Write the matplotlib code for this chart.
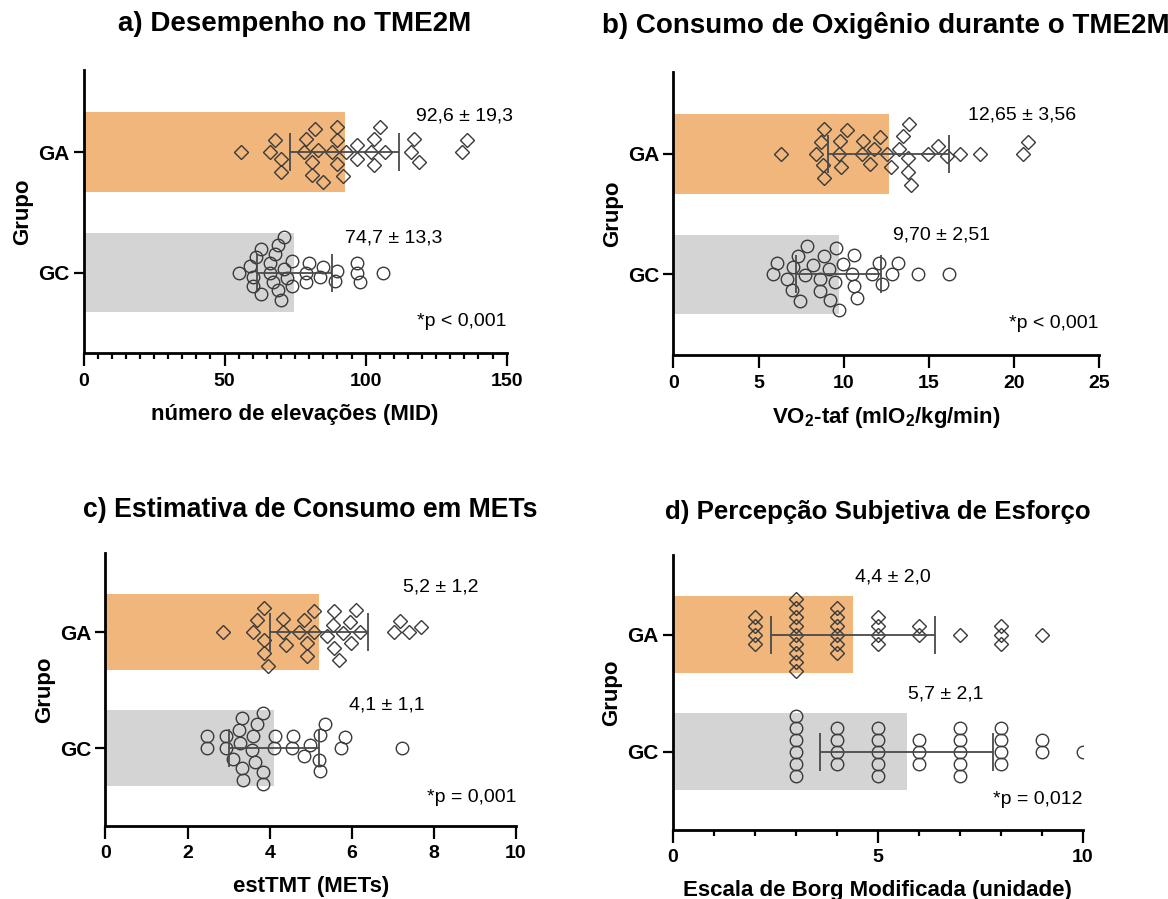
import numpy as np
import matplotlib.pyplot as plt
from matplotlib.ticker import MultipleLocator

plt.rcParams['font.family'] = ['Liberation Sans', 'DejaVu Sans']
plt.rcParams['mathtext.fontset'] = 'custom'
plt.rcParams['mathtext.rm'] = 'Liberation Sans'
plt.rcParams['mathtext.bf'] = 'Liberation Sans:bold'

group_labels = ['GC', 'GA']

# a) desempenho no TME2M (numero de elevacoes)
tme_ga = [56, 66, 68, 70, 70, 78, 79, 81, 81, 82, 83, 85, 88, 90, 90,
          90, 92, 93, 97, 97, 102, 103, 103, 105, 107, 116, 117, 119, 134, 136]
tme_gc = [55, 59, 60, 60, 61, 63, 63, 66, 66, 67, 68, 69, 69, 70, 71,
          71, 72, 74, 74, 79, 79, 80, 84, 85, 89, 90, 97, 97, 98, 106]
tme_mean = [74.7, 92.6]   # GC, GA
tme_sd = [13.3, 19.3]
tme_text = ['74,7 ± 13,3', '92,6 ± 19,3']

# b) VO2-taf
vo2_ga = [6.32, 8.35, 8.65, 8.76, 8.84, 8.84, 9.74, 9.78, 9.82, 10.21,
          11.06, 11.11, 11.55, 11.78, 12.13, 12.56, 12.76, 13.27, 13.46, 13.78,
          13.78, 13.86, 13.93, 14.93, 15.56, 16.05, 16.83, 18.01, 20.52, 20.85]
vo2_gc = [5.83, 6.10, 6.69, 6.94, 7.04, 7.33, 7.43, 7.73, 7.82, 8.22,
          8.61, 8.61, 8.84, 9.16, 9.20, 9.49, 9.53, 9.72, 9.98, 10.47,
          10.61, 10.62, 10.80, 11.68, 12.07, 12.27, 12.82, 13.17, 14.38, 16.21]
vo2_mean = [9.70, 12.65]
vo2_sd = [2.51, 3.56]
vo2_text = ['9,70 ± 2,51', '12,65 ± 3,56']

# c) estTMT (METs)
met_ga = [2.87, 3.59, 3.70, 3.85, 3.87, 3.87, 3.95, 4.32, 4.32, 4.40,
          4.72, 4.84, 4.91, 4.92, 5.09, 5.09, 5.39, 5.53, 5.56, 5.56,
          5.69, 5.78, 5.95, 5.99, 6.11, 6.19, 7.02, 7.18, 7.39, 7.69]
met_gc = [2.48, 2.48, 2.94, 2.94, 3.10, 3.26, 3.28, 3.32, 3.32, 3.35,
          3.58, 3.59, 3.65, 3.69, 3.83, 3.83, 3.83, 4.11, 4.13, 4.54,
          4.56, 4.83, 4.99, 5.19, 5.22, 5.22, 5.34, 5.74, 5.84, 7.22]
met_mean = [4.1, 5.2]
met_sd = [1.1, 1.2]
met_text = ['4,1 ± 1,1', '5,2 ± 1,2']

# d) Borg modificada
borg_ga = [2, 2, 2, 2, 3, 3, 3, 3, 3, 3, 3, 3, 3, 4, 4, 4, 4, 4, 4,
           5, 5, 5, 5, 6, 6, 7, 8, 8, 8, 9]
borg_gc = [3, 3, 3, 3, 3, 3, 4, 4, 4, 4, 5, 5, 5, 5, 5, 6, 6, 6,
           7, 7, 7, 7, 7, 8, 8, 8, 8, 9, 9, 10]
borg_mean = [5.7, 4.4]
borg_sd = [2.1, 2.0]
borg_text = ['5,7 ± 2,1', '4,4 ± 2,0']

p_texts = ['*p < 0,001', '*p < 0,001', '*p = 0,001', '*p = 0,012']
titles = ['a) Desempenho no TME2M',
          'b) Consumo de Oxigênio durante o TME2M',
          'c) Estimativa de Consumo em METs',
          'd) Percepção Subjetiva de Esforço']
xlabels = ['número de elevações (MID)',
           r'VO$_\mathbf{2}$-taf (mlO$_\mathbf{2}$/kg/min)',
           'estTMT (METs)',
           'Escala de Borg Modificada (unidade)']

ORANGE = '#F0B67B'
GREY = '#D4D4D4'
YLIM = (-0.67, 1.68)


def swarm_offsets(xpix, d, limit):
    # simple beeswarm in pixel space, squeezed to fit inside the bar
    order = np.argsort(xpix, kind='stable')
    placed = []
    offs = np.zeros(len(xpix))
    for i in order:
        x = xpix[i]
        near = [(px, py) for px, py in placed if abs(px - x) < d]
        cands = [0.0]
        for px, py in near:
            h = np.sqrt(d * d - (px - x) ** 2)
            cands += [py + h, py - h]
        cands.sort(key=lambda c: (round(abs(c), 6), c < 0))
        for c in cands:
            if all((px - x) ** 2 + (py - c) ** 2 >= d * d - 1e-6 for px, py in near):
                offs[i] = c
                break
        placed.append((x, offs[i]))
    m = np.abs(offs).max()
    if m > limit:
        offs = offs * limit / m
    return offs


fig = plt.figure(figsize=(11.68, 8.99), dpi=100)

rects = [[0.0715, 0.607, 0.3623, 0.3151],
         [0.5766, 0.605, 0.3643, 0.3151],
         [0.0903, 0.0815, 0.3515, 0.3032],
         [0.5760, 0.0768, 0.3512, 0.3059]]
xmaxes = [150, 25, 10, 10]
majors = [50, 5, 2, 5]
minors = [5, None, None, 1]
text_pos = [[(92.7, 0.29), (117.9, 1.30)],
            [(12.9, 0.33), (17.3, 1.32)],
            [(5.92, 0.37), (7.25, 1.39)],
            [(5.73, 0.49), (4.44, 1.49)]]
p_y = [-0.41, -0.41, -0.43, -0.41]
title_pads = [28, 28, 26, 26]
title_sizes = [20, 20, 19.2, 18.6]

panels = [(tme_ga, tme_gc, tme_mean, tme_sd, tme_text),
          (vo2_ga, vo2_gc, vo2_mean, vo2_sd, vo2_text),
          (met_ga, met_gc, met_mean, met_sd, met_text),
          (borg_ga, borg_gc, borg_mean, borg_sd, borg_text)]

for k, (ga, gc, mean, sd, stat_text) in enumerate(panels):
    ax = fig.add_axes(rects[k])
    xmax = xmaxes[k]
    ax.set_xlim(0, xmax)
    ax.set_ylim(*YLIM)

    ax.barh([0, 1], mean, height=0.66, color=[GREY, ORANGE], zorder=1)

    bb = ax.get_window_extent()
    sx = bb.width / xmax
    sy = bb.height / (YLIM[1] - YLIM[0])

    for yc, vals, mk, ms in [(1, ga, 'D', 7.6), (0, gc, 'o', 9.0)]:
        vals = np.asarray(vals, float)
        d = ms * 100 / 72 * 1.25
        off = swarm_offsets(vals * sx, d, 36)
        ax.plot(vals, yc + off / sy, ls='none', marker=mk, ms=ms,
                mfc='none', mec='#3a3a3a', mew=1.0, zorder=2)

    ax.errorbar(mean, [0, 1], xerr=sd, fmt='none', ecolor='#4a4a4a',
                elinewidth=1.3, capsize=13.5, capthick=1.3, zorder=3)

    for (tx, ty), s in zip(text_pos[k], stat_text):
        ax.text(tx, ty, s, fontsize=14, ha='left', va='center')
    ax.text(xmax, p_y[k], p_texts[k], fontsize=14, ha='right', va='center')

    for side in ['top', 'right']:
        ax.spines[side].set_visible(False)
    for side in ['left', 'bottom']:
        ax.spines[side].set_linewidth(2)

    ax.xaxis.set_major_locator(MultipleLocator(majors[k]))
    if minors[k]:
        ax.xaxis.set_minor_locator(MultipleLocator(minors[k]))
    ax.tick_params(axis='x', which='major', length=9, width=1.6, pad=5,
                   labelsize=14)
    ax.tick_params(axis='x', which='minor', length=4.5, width=1.6)
    ax.set_yticks([0, 1], group_labels)
    ax.tick_params(axis='y', length=7, width=1.6, pad=3, labelsize=15)
    for lab in ax.get_xticklabels() + ax.get_yticklabels():
        lab.set_fontweight('bold')

    ax.set_xlabel(xlabels[k], fontsize=16, fontweight='bold', labelpad=10)
    ax.set_ylabel('Grupo', fontsize=16, fontweight='bold', labelpad=4)
    ax.set_title(titles[k], fontsize=title_sizes[k], fontweight='bold',
                 pad=title_pads[k])

fig.savefig('out.png', dpi=100)
